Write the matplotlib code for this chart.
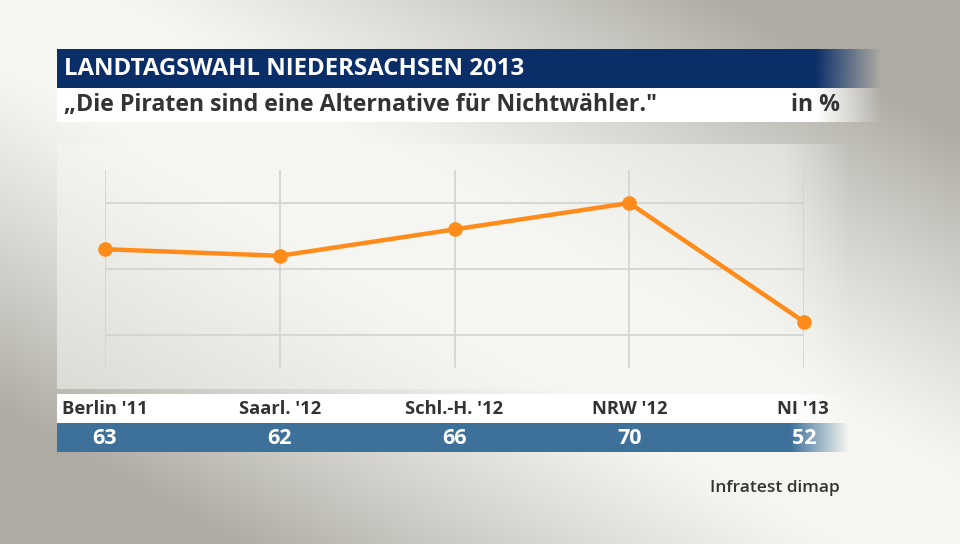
import numpy as np
import matplotlib
matplotlib.use("Agg")
import matplotlib.pyplot as plt
from matplotlib.colors import to_rgb

# data
labels = ["Berlin '11", "Saarl. '12", "Schl.-H. '12", "NRW '12", "NI '13"]
values = [63, 62, 66, 70, 52]
title = "LANDTAGSWAHL NIEDERSACHSEN 2013"
subtitle = "\u201eDie Piraten sind eine Alternative f\u00fcr Nichtw\u00e4hler.\""
unit = "in %"
source = "Infratest dimap"

W, H = 960, 544
NAVY = "#0a2e68"
STEEL = "#3e7199"
ORANGE = "#ff8c1a"
GRID = "#d2d2ce"
DARK = "#333333"
FONT = "Open Sans"

fig = plt.figure(figsize=(W / 100, H / 100), dpi=100)

# background overlay in pixel coordinates
bg = fig.add_axes([0, 0, 1, 1])
bg.set_xlim(0, W)
bg.set_ylim(H, 0)
bg.axis("off")

# light band along the diagonal, grey towards top-right / bottom-left
yy, xx = np.mgrid[0:H, 0:W].astype(float)
dist = np.abs(xx * H - yy * W) / np.hypot(W, H)
t = np.clip((dist - 60) / 300.0, 0, 1) ** 1.2
c_in = np.array(to_rgb("#f5f5f1"))
c_out = np.array(to_rgb("#adaba3"))
img = c_in * (1 - t[..., None]) + c_out * t[..., None]

# faint lighter chart panel with soft right edge
px0, px1, py0, py1, pf = 57, 850, 144, 388, 780
a = np.clip((px1 - xx) / (px1 - pf), 0, 1) * 0.55
inside = (xx >= px0) & (yy >= py0) & (yy <= py1)
a = np.where(inside, a, 0)[..., None]
panel = np.array(to_rgb("#f6f6f2"))
img = img * (1 - a) + panel * a
bg.imshow(img, extent=(0, W, H, 0), aspect="auto", zorder=0)


def fade_bar(x0, x1, y0, y1, color, fade0):
    n = int(x1 - x0)
    arr = np.zeros((1, n, 4))
    arr[..., :3] = to_rgb(color)
    xs = np.arange(n) + x0
    arr[0, :, 3] = np.clip((x1 - xs) / (x1 - fade0), 0, 1)
    bg.imshow(arr, extent=(x0, x1, y1, y0), aspect="auto", zorder=1,
              interpolation="bilinear")


fade_bar(57, 880, 49, 88, NAVY, 815)
fade_bar(57, 880, 88, 122, "white", 815)
fade_bar(57, 848, 394, 423, "white", 790)
fade_bar(57, 848, 423, 452, STEEL, 790)

bg.text(64, 69, title, color="white", fontsize=17.3, fontweight="bold",
        family=FONT, va="center", ha="left", zorder=2)
bg.text(64, 105, subtitle, color=DARK, fontsize=16.7, fontweight="bold",
        family=FONT, va="center", ha="left", zorder=2)
bg.text(840, 105, unit, color=DARK, fontsize=16.7, fontweight="bold",
        family=FONT, va="center", ha="right", zorder=2)
bg.text(840, 488, source, color=DARK, fontsize=12.5, fontweight="semibold",
        family=FONT, va="center", ha="right", zorder=2)

# chart axes
x_left, x_right = 105, 804
y_top, y_bot = 170, 368
ax = fig.add_axes([x_left / W, 1 - y_bot / H, (x_right - x_left) / W,
                   (y_bot - y_top) / H])
ax.patch.set_alpha(0)
ax.set_zorder(3)
x = np.arange(len(values))
ax.set_xlim(0, len(values) - 1)
ax.set_ylim(45, 75)
for v in [50, 60, 70]:
    ax.axhline(v, color=GRID, lw=1.2, zorder=1)
for xi in x:
    ax.axvline(xi, color=GRID, lw=1.2, zorder=1)
ax.plot(x, values, color=ORANGE, lw=3.2, marker="o", markersize=9.5,
        clip_on=False, zorder=3, solid_joinstyle="round")
for s in ax.spines.values():
    s.set_visible(False)
ax.set_xticks([])
ax.set_yticks([])

# category labels and values below the chart, aligned to the x axis
trans = ax.get_xaxis_transform()
for i, (lab, val) in enumerate(zip(labels, values)):
    if i == 0:
        ha, dx = "left", -43
    elif i == len(labels) - 1:
        ha, dx = "right", 25
    else:
        ha, dx = "center", 0
    ax.annotate(lab, xy=(i, 0), xycoords=trans, xytext=(dx, -41),
                textcoords="offset pixels", ha=ha, va="center",
                fontsize=13.2, fontweight="bold", color=DARK, family=FONT,
                annotation_clip=False)
    ax.annotate(str(val), xy=(i, 0), xycoords=trans, xytext=(0, -70),
                textcoords="offset pixels", ha="center", va="center",
                fontsize=15.5, fontweight="bold", color="white", family=FONT,
                annotation_clip=False)

fig.savefig("out.png", dpi=100)
